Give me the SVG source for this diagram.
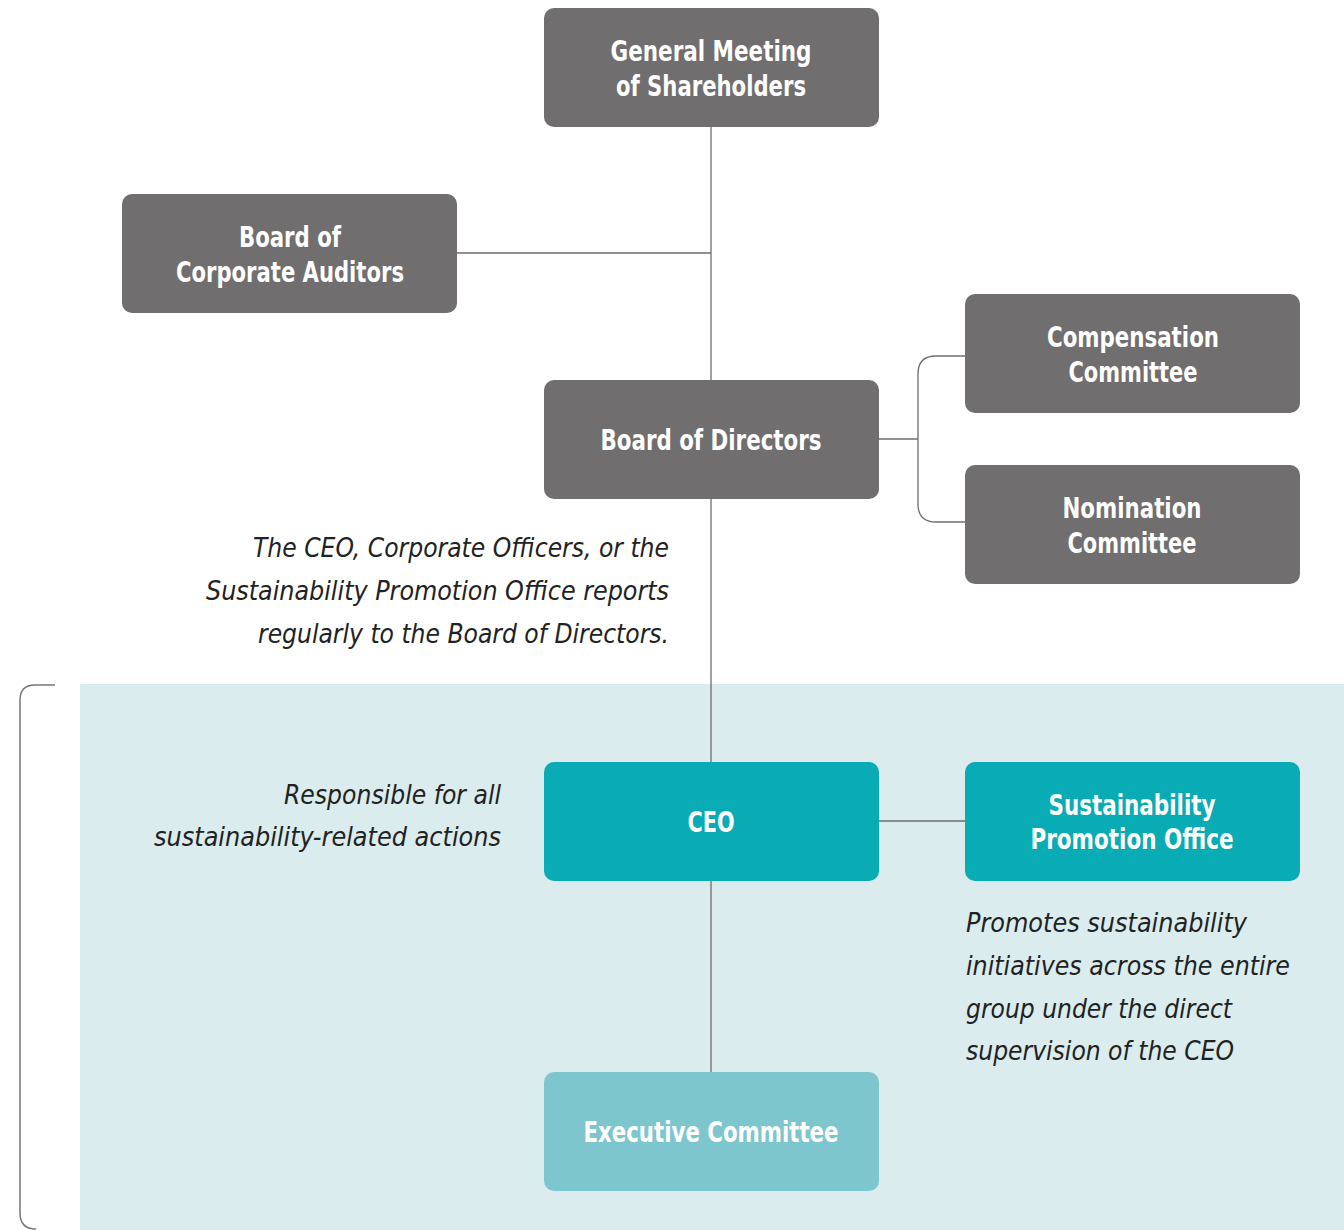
<svg xmlns="http://www.w3.org/2000/svg" width="1344" height="1230" viewBox="0 0 1344 1230">
<style>
.box{fill:#706e6f}
.teal{fill:#09abb5}
.lt{fill:#7ec6cd}
.t{font-family:"DejaVu Sans Condensed","Liberation Sans Narrow","Liberation Sans",sans-serif;font-stretch:condensed;font-weight:bold;font-size:28px;fill:#fff;text-anchor:middle}
.n{font-family:"DejaVu Sans Condensed","Liberation Sans Narrow","Liberation Sans",sans-serif;font-stretch:condensed;font-style:italic;font-size:27px;fill:#222}
.ln{fill:none;stroke:#6d6d6d;stroke-width:1.3}
</style>
<rect x="80" y="684" width="1264" height="546" fill="#daecee"/>
<path d="M55 685 H35 Q20 685 20 700 V1213 Q20 1229 36 1229" fill="none" stroke="#777" stroke-width="1.5"/>
<g id="connectors">
<path class="ln" d="M711 127 V1072"/>
<path class="ln" d="M457 253 H711"/>
<path class="ln" d="M879 439 H918"/>
<path class="ln" d="M965 356 H936 Q918 356 918 374 V504 Q918 522 936 522 H965"/>
<path class="ln" d="M879 821 H965"/>
</g>
<g id="gms"><rect class="box" x="544" y="8" width="335" height="119" rx="10"/><text class="t" x="711" y="61" textLength="201" lengthAdjust="spacingAndGlyphs">General Meeting</text><text class="t" x="711" y="96" textLength="190" lengthAdjust="spacingAndGlyphs">of Shareholders</text></g>
<g id="bca"><rect class="box" x="122" y="194" width="335" height="119" rx="10"/><text class="t" x="290" y="247" textLength="102" lengthAdjust="spacingAndGlyphs">Board of</text><text class="t" x="290" y="282" textLength="228" lengthAdjust="spacingAndGlyphs">Corporate Auditors</text></g>
<g id="bod"><rect class="box" x="544" y="380" width="335" height="119" rx="10"/><text class="t" x="711" y="450" textLength="221" lengthAdjust="spacingAndGlyphs">Board of Directors</text></g>
<g id="comp"><rect class="box" x="965" y="294" width="335" height="119" rx="10"/><text class="t" x="1133" y="347" textLength="172" lengthAdjust="spacingAndGlyphs">Compensation</text><text class="t" x="1133" y="382" textLength="129" lengthAdjust="spacingAndGlyphs">Committee</text></g>
<g id="nom"><rect class="box" x="965" y="465" width="335" height="119" rx="10"/><text class="t" x="1132" y="518" textLength="139" lengthAdjust="spacingAndGlyphs">Nomination</text><text class="t" x="1132" y="553" textLength="129" lengthAdjust="spacingAndGlyphs">Committee</text></g>
<g id="ceo"><rect class="teal" x="544" y="762" width="335" height="119" rx="10"/><text class="t" x="711" y="832" textLength="47" lengthAdjust="spacingAndGlyphs">CEO</text></g>
<g id="spo"><rect class="teal" x="965" y="762" width="335" height="119" rx="10"/><text class="t" x="1132" y="815" textLength="167" lengthAdjust="spacingAndGlyphs">Sustainability</text><text class="t" x="1132" y="849" textLength="203" lengthAdjust="spacingAndGlyphs">Promotion Office</text></g>
<g id="exec"><rect class="lt" x="544" y="1072" width="335" height="119" rx="10"/><text class="t" x="711" y="1142" textLength="255" lengthAdjust="spacingAndGlyphs">Executive Committee</text></g>
<g id="notes">
<text class="n" text-anchor="end" x="669" y="557" textLength="416" lengthAdjust="spacingAndGlyphs">The CEO, Corporate Officers, or the</text>
<text class="n" text-anchor="end" x="669" y="600" textLength="463" lengthAdjust="spacingAndGlyphs">Sustainability Promotion Office reports</text>
<text class="n" text-anchor="end" x="669" y="643" textLength="411" lengthAdjust="spacingAndGlyphs">regularly to the Board of Directors.</text>
<text class="n" text-anchor="end" x="501" y="804" textLength="217" lengthAdjust="spacingAndGlyphs">Responsible for all</text>
<text class="n" text-anchor="end" x="501" y="846" textLength="347" lengthAdjust="spacingAndGlyphs">sustainability-related actions</text>
<text class="n" x="966" y="932" textLength="281" lengthAdjust="spacingAndGlyphs">Promotes sustainability</text>
<text class="n" x="966" y="975" textLength="324" lengthAdjust="spacingAndGlyphs">initiatives across the entire</text>
<text class="n" x="966" y="1018" textLength="266" lengthAdjust="spacingAndGlyphs">group under the direct</text>
<text class="n" x="966" y="1060" textLength="268" lengthAdjust="spacingAndGlyphs">supervision of the CEO</text>
</g>
</svg>
